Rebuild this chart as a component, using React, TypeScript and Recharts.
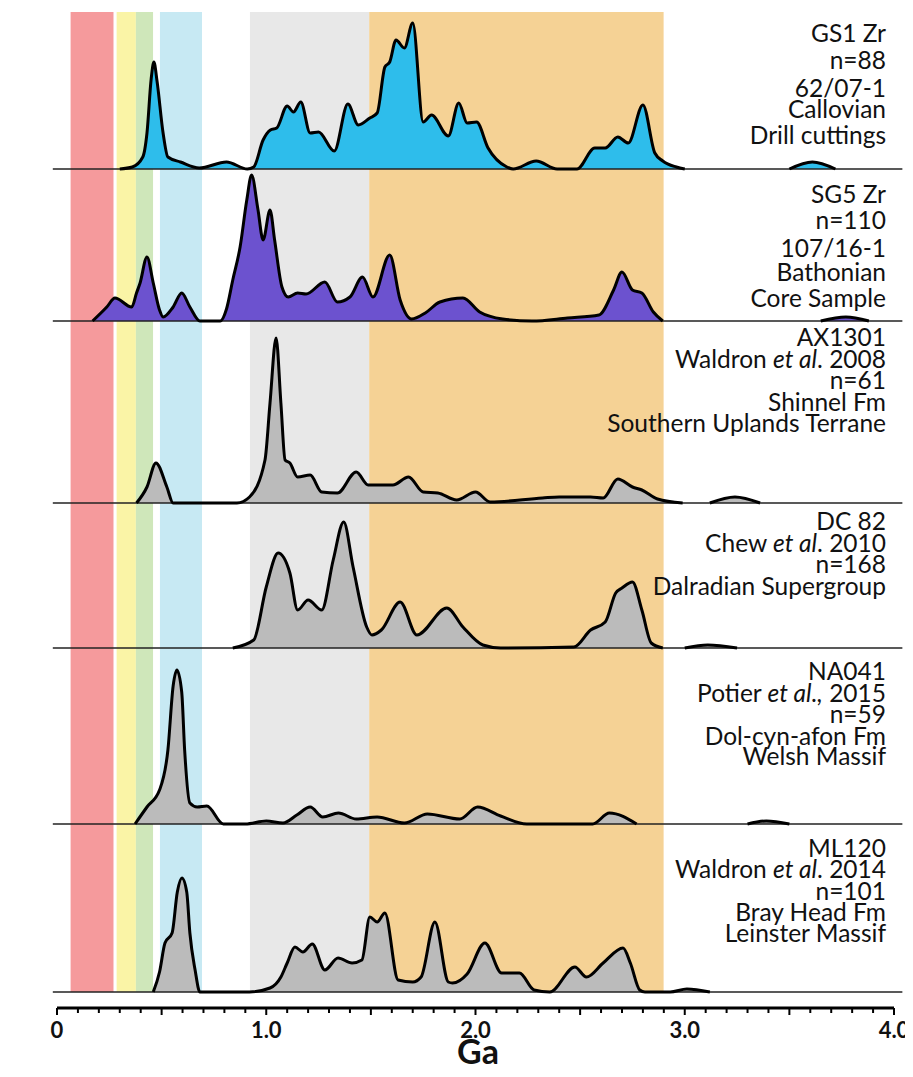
import React from 'react';
import {
  ComposedChart,
  Area,
  Line,
  XAxis,
  YAxis,
  ReferenceArea,
  ReferenceLine,
} from 'recharts';

// [age in Ga, relative probability]; null breaks the curve
type Pt = [number, number | null];

const GS1_ZR: Pt[] = [
  [0.30, 0], [0.36, 2], [0.41, 12], [0.43, 36], [0.45, 90], [0.463, 107], [0.478, 88],
  [0.507, 36], [0.53, 12], [0.59, 7], [0.68, 1], [0.81, 7], [0.91, 0], [0.94, 2],
  [0.985, 29], [1.02, 39], [1.05, 41], [1.10, 63], [1.13, 57], [1.165, 67], [1.21, 36],
  [1.25, 37], [1.325, 18], [1.39, 65], [1.44, 44], [1.495, 51], [1.53, 56], [1.567, 102],
  [1.59, 107], [1.62, 129], [1.66, 121], [1.70, 146], [1.75, 47], [1.79, 54], [1.87, 33],
  [1.92, 66], [1.96, 46], [2.005, 47], [2.06, 21], [2.15, 2], [2.18, 0], [2.29, 8],
  [2.39, 0], [2.485, 0], [2.57, 21], [2.62, 21], [2.68, 32], [2.73, 26], [2.80, 64],
  [2.857, 16], [2.895, 8], [2.96, 2], [3.0, 0], [3.3, null], [3.5, 0], [3.61, 7], [3.72, 0],
];

const SG5_ZR: Pt[] = [
  [0.17, 0], [0.238, 14], [0.277, 23], [0.357, 14], [0.38, 28], [0.397, 38], [0.43, 64],
  [0.46, 38], [0.49, 11], [0.507, 4], [0.555, 14], [0.596, 28], [0.635, 14], [0.683, 0],
  [0.78, 0], [0.81, 12], [0.84, 41], [0.875, 74], [0.907, 121], [0.93, 146], [0.96, 112],
  [0.985, 81], [1.018, 111], [1.04, 81], [1.075, 34], [1.105, 24], [1.15, 28], [1.19, 27],
  [1.28, 39], [1.34, 19], [1.40, 24], [1.46, 44], [1.51, 24], [1.59, 66], [1.64, 21],
  [1.695, 2], [1.76, 8], [1.83, 19], [1.94, 23], [2.02, 9], [2.13, 2], [2.27, 0],
  [2.44, 3], [2.59, 6], [2.66, 31], [2.70, 49], [2.75, 31], [2.795, 28], [2.85, 9],
  [2.895, 0], [3.3, null], [3.65, 0], [3.77, 4], [3.88, 0],
];

const AX1301: Pt[] = [
  [0.38, 0], [0.43, 16], [0.473, 40], [0.525, 16], [0.555, 0], [0.86, 0], [0.92, 6],
  [0.994, 43], [1.018, 100], [1.047, 165], [1.07, 100], [1.09, 43], [1.113, 40],
  [1.15, 26], [1.21, 28], [1.265, 11], [1.34, 10], [1.43, 31], [1.487, 18], [1.605, 18],
  [1.68, 26], [1.75, 11], [1.82, 10], [1.91, 3], [2.0, 11], [2.07, 1], [2.32, 5],
  [2.40, 6], [2.55, 6], [2.61, 5], [2.68, 24], [2.75, 16], [2.795, 13], [2.87, 4],
  [2.99, 0], [3.05, null], [3.12, 0], [3.24, 6], [3.36, 0],
];

const DC82: Pt[] = [
  [0.84, 0], [0.94, 8], [1.0, 61], [1.057, 95], [1.113, 75], [1.15, 38], [1.20, 48],
  [1.265, 38], [1.32, 88], [1.37, 126], [1.415, 81], [1.48, 21], [1.505, 13], [1.55, 18],
  [1.64, 46], [1.72, 13], [1.863, 40], [1.94, 21], [2.035, 3], [2.12, 0], [2.47, 1],
  [2.55, 18], [2.62, 26], [2.67, 55], [2.70, 60], [2.75, 66], [2.795, 38], [2.84, 5],
  [2.895, 0], [2.95, null], [3.0, 0], [3.11, 3], [3.25, 0],
];

const NA041: Pt[] = [
  [0.373, 0], [0.43, 17], [0.49, 34], [0.53, 74], [0.555, 138], [0.573, 154], [0.596, 132],
  [0.61, 74], [0.635, 21], [0.67, 17], [0.716, 18], [0.795, 0], [0.90, 0], [1.0, 3],
  [1.08, 1], [1.146, 9], [1.21, 17], [1.27, 7], [1.345, 11], [1.43, 5], [1.53, 7],
  [1.66, 1], [1.77, 10], [1.925, 5], [2.01, 17], [2.12, 8], [2.245, 0], [2.56, 0],
  [2.64, 11], [2.77, 0], [3.0, null], [3.30, 0], [3.39, 3], [3.50, 0],
];

const ML120: Pt[] = [
  [0.46, 0], [0.49, 20], [0.516, 49], [0.55, 59], [0.575, 100], [0.597, 114], [0.62, 100],
  [0.635, 59], [0.66, 22], [0.683, 0], [0.92, 0], [1.018, 4], [1.07, 15], [1.10, 29],
  [1.137, 45], [1.175, 40], [1.22, 48], [1.28, 22], [1.343, 34], [1.41, 29], [1.457, 32],
  [1.495, 75], [1.53, 70], [1.567, 79], [1.63, 12], [1.70, 10], [1.74, 15], [1.806, 70],
  [1.87, 10], [1.89, 9], [1.96, 18], [2.045, 49], [2.125, 19], [2.21, 19], [2.28, 2],
  [2.355, 0], [2.475, 25], [2.53, 15], [2.61, 29], [2.705, 44], [2.74, 29], [2.785, 2],
  [2.81, 0], [2.93, 0], [3.01, 3], [3.12, 0],
];

// age intervals shaded behind the curves (Ga)
const BANDS = [
  { from: 0.065, to: 0.27, color: '#F59A9C' },
  { from: 0.285, to: 0.377, color: '#FAF4A6' },
  { from: 0.377, to: 0.459, color: '#CFE7BA' },
  { from: 0.492, to: 0.693, color: '#C7E9F3' },
  { from: 0.922, to: 1.492, color: '#E8E8E8' },
  { from: 1.492, to: 2.899, color: '#F5D295' },
];

const TICK_LABELS = ['0', '1.0', '2.0', '3.0', '4.0'];
const TICKS = Array.from({ length: 41 }, (_, i) => i / 10);

const SAMPLES = [
  { pts: GS1_ZR, fill: '#2EBDEB', base: 839, labels: ['GS1 Zr', 'n=88', '62/07-1', 'Callovian', 'Drill cuttings'], ys: [32, 59, 87, 108, 134] },
  { pts: SG5_ZR, fill: '#6C52CF', base: 687, labels: ['SG5 Zr', 'n=110', '107/16-1', 'Bathonian', 'Core Sample'], ys: [193, 219, 247, 271, 297] },
  { pts: AX1301, fill: '#BBBBBB', base: 505, labels: ['AX1301', 'Waldron |et al|. 2008', 'n=61', 'Shinnel Fm', 'Southern Uplands Terrane'], ys: [336, 358, 379, 401, 422] },
  { pts: DC82, fill: '#BBBBBB', base: 360, labels: ['DC 82', 'Chew |et al|. 2010', 'n=168', 'Dalradian Supergroup'], ys: [520, 542, 563, 585] },
  { pts: NA041, fill: '#BBBBBB', base: 184, labels: ['NA041', 'Potier |et al.,| 2015', 'n=59', 'Dol-cyn-afon Fm', 'Welsh Massif'], ys: [670, 692, 713, 735, 755] },
  { pts: ML120, fill: '#BBBBBB', base: 16, labels: ['ML120', 'Waldron |et al|. 2014', 'n=101', 'Bray Head Fm', 'Leinster Massif'], ys: [847, 868, 890, 911, 932] },
];

const W = 905;
const H = 1061;
const FONT = 'Lato, "Open Sans", sans-serif';

const toRows = (pts: Pt[], base: number) =>
  pts.map(([x, h]) => ({
    x,
    band: h == null ? null : [base, base + h],
    top: h == null ? null : base + h,
  }));

const AgeTick = (props: any) => {
  const { x, y, payload } = props;
  const tenths = Math.round((payload.value as number) * 10);
  const major = tenths % 5 === 0;
  const label = tenths % 10 === 0 ? TICK_LABELS[tenths / 10] : undefined;
  return (
    <g>
      <line x1={x} x2={x} y1={y} y2={y + (major ? 7 : 5)} stroke="#000" strokeWidth={2} />
      {label !== undefined && (
        <text x={x} y={y + 30} textAnchor="middle" fontFamily={FONT} fontWeight={700} fontSize={22} fill="#111">
          {label}
        </text>
      )}
    </g>
  );
};

const LabelLine = ({ text }: { text: string }) => {
  const parts = text.split('|');
  return (
    <>
      {parts.map((p, i) => (i % 2 === 1 ? <i key={i}>{p}</i> : <span key={i}>{p}</span>))}
    </>
  );
};

export default function App() {
  return (
    <div style={{ position: 'relative', width: W, height: H, fontFamily: FONT }}>
      <div style={{ position: 'absolute', left: -7, top: 444, width: 4, height: 617, background: '#000' }} />
      <ComposedChart width={W} height={H} margin={{ top: 4, right: 19, bottom: 2, left: 49 }}>
        <XAxis
          type="number"
          dataKey="x"
          domain={[0, 4]}
          ticks={TICKS}
          interval={0}
          allowDataOverflow
          height={59}
          tickSize={0}
          tickMargin={0}
          tickLine={false}
          axisLine={{ stroke: '#000', strokeWidth: 3 }}
          tick={<AgeTick />}
        />
        <YAxis type="number" hide domain={[0, 996]} allowDataOverflow />
        {BANDS.map((b) => (
          <ReferenceArea key={b.from} x1={b.from} x2={b.to} y1={16} y2={996} fill={b.color} fillOpacity={1} stroke="none" />
        ))}
        {SAMPLES.map((s) => (
          <ReferenceLine
            key={'base' + s.base}
            segment={[{ x: -0.02, y: s.base }, { x: 4.04, y: s.base }]}
            stroke="#222"
            strokeWidth={1.6}
            ifOverflow="visible"
          />
        ))}
        {SAMPLES.map((s) => (
          <Area
            key={'area' + s.base}
            data={toRows(s.pts, s.base)}
            dataKey="band"
            type="monotone"
            fill={s.fill}
            fillOpacity={1}
            stroke="none"
            isAnimationActive={false}
          />
        ))}
        {SAMPLES.map((s) => (
          <Line
            key={'line' + s.base}
            data={toRows(s.pts, s.base)}
            dataKey="top"
            type="monotone"
            stroke="#000"
            strokeWidth={3}
            strokeLinejoin="round"
            dot={false}
            activeDot={false}
            isAnimationActive={false}
          />
        ))}
      </ComposedChart>
      {SAMPLES.map((s) =>
        s.labels.map((t, i) => (
          <div
            key={s.base + '-' + i}
            style={{
              position: 'absolute',
              right: 27,
              top: s.ys[i] - 8 - 10,
              height: 21,
              lineHeight: '21px',
              fontSize: 24.5,
              color: '#111',
              whiteSpace: 'nowrap',
            }}
          >
            <LabelLine text={t} />
          </div>
        )),
      )}
      <div
        style={{
          position: 'absolute',
          left: 478 - 8 - 40,
          width: 80,
          top: 1051 - 8 - 14,
          height: 28,
          textAlign: 'center',
          fontSize: 34,
          fontWeight: 700,
          lineHeight: '28px',
          color: '#111',
        }}
      >
        Ga
      </div>
    </div>
  );
}
